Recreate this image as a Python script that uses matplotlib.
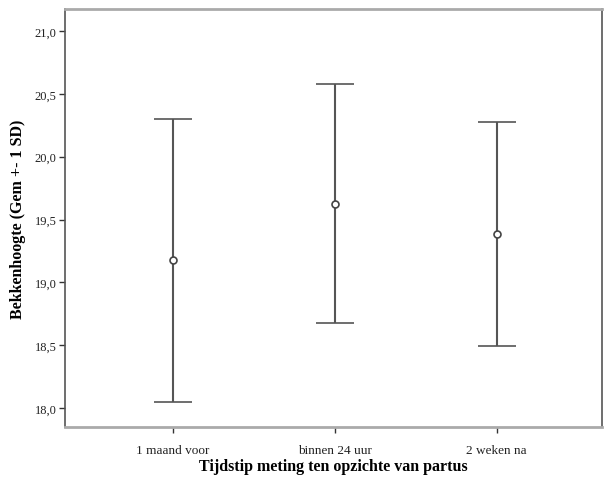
import matplotlib
matplotlib.use("Agg")
import matplotlib.pyplot as plt
from matplotlib.ticker import FixedLocator, FuncFormatter

categories = ["1 maand voor", "binnen 24 uur", "2 weken na"]
means = [19.175, 19.627, 19.385]
sds = [1.128, 0.953, 0.888]
yticks = [18.0, 18.5, 19.0, 19.5, 20.0, 20.5, 21.0]

plt.rcParams['font.family'] = ['Liberation Serif', 'DejaVu Serif']

fig = plt.figure(figsize=(6.04, 4.81), dpi=100)
ax = fig.add_axes([65/604, 1-428/481, (602-65)/604, (428-10)/481])

x = list(range(len(categories)))
ax.errorbar(x, means, yerr=sds, fmt='o', mfc='white', mec='#444444', ms=5, mew=1.2,
            ecolor='#555555', elinewidth=1.5, capsize=14, capthick=1.5, color='#555555')

ax.set_xlim(-0.665, 2.65)
ax.set_ylim(17.85, 21.175)
ax.yaxis.set_major_locator(FixedLocator(yticks))
ax.yaxis.set_major_formatter(FuncFormatter(lambda v, p: f"{v:.1f}".replace('.', ',')))
ax.set_xticks(x)
ax.set_xticklabels(categories)
ax.tick_params(axis='y', direction='out', length=4, width=1, colors='#333333',
               labelsize=9, labelcolor='#222222', pad=2)
ax.tick_params(axis='x', direction='out', length=4, width=1, colors='#333333',
               labelsize=9.5, labelcolor='#222222', pad=8)

for side in ['left', 'right']:
    ax.spines[side].set_color('#555555')
    ax.spines[side].set_linewidth(1.2)
for side in ['top', 'bottom']:
    ax.spines[side].set_color('#aaaaaa')
    ax.spines[side].set_linewidth(2)

ax.set_ylabel("Bekkenhoogte (Gem +- 1 SD)", fontsize=11.5, fontweight='bold', labelpad=6)
ax.set_xlabel("Tijdstip meting ten opzichte van partus", fontsize=11.5, fontweight='bold', labelpad=2)

fig.savefig("out.png", dpi=100)
